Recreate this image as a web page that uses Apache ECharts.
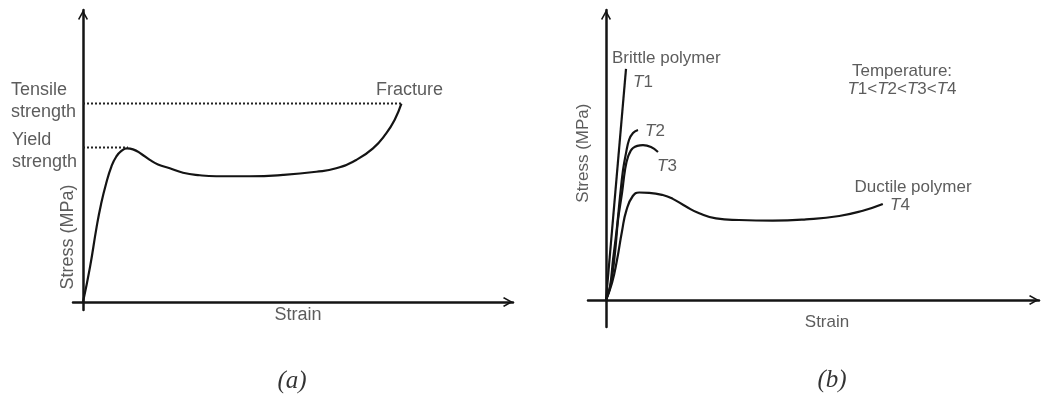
<!DOCTYPE html>
<html><head><meta charset="utf-8">
<script src="https://cdn.jsdelivr.net/npm/echarts@6/dist/echarts.min.js"></script>
<style>html,body{margin:0;padding:0;background:#fff}#c{width:1041px;height:396px}</style>
</head><body><div id="c"></div>
<script>
// ---------- Panel (a): generic stress-strain curve ----------
const strainA = [0, 1.75, 3.4, 4.5, 5.8, 7.1, 8.3, 9.6, 11, 12.5, 14.6, 16.7, 18.75, 21.7, 25, 29.2, 33.3, 41.7, 50, 58.3, 63.3, 68.3, 72.5, 75.8, 77.9, 79.6];
const stressA = [0, 10.9, 23.4, 30.5, 37.1, 42.3, 45.4, 47.2, 48.0, 47.7, 46.25, 44.4, 43.0, 41.8, 40.4, 39.6, 39.3, 39.3, 39.7, 40.7, 41.8, 44.4, 48.0, 52.7, 56.9, 62.0];
const tensileStrength = 62.0, fractureStrain = 79.6;
const yieldStrength = 48.3, yieldStrain = 11.25;

// ---------- Panel (b): temperature dependence ----------
const strainT1 = [0, 5];
const stressT1 = [0, 72.2];
const strainT2 = [0, 1, 1.75, 2.75, 3.5, 4.25, 5, 5.75, 6.75, 8];
const stressT2 = [0, 4.1, 12.5, 22.8, 32.2, 40.6, 45.9, 50, 52.2, 53.1];
const strainT3 = [0, 1.25, 2.25, 3, 4, 4.75, 5.5, 6.75, 9.25, 11.25, 13];
const stressT3 = [0, 5.3, 14.7, 25, 33.4, 40.6, 44.7, 47.5, 48.4, 47.8, 46.25];
const strainT4 = [0, 1.5, 2.75, 4, 5.1, 6.7, 8.3, 10.8, 14.2, 16.7, 20, 23.3, 27.5, 33.3, 41.7, 50, 58.3, 64.2, 69.2];
const stressT4 = [0, 5.3, 12.5, 21.5, 28, 32.5, 33.6, 33.5, 32.8, 31.6, 29.2, 27.1, 25.5, 25, 24.8, 25.2, 26.25, 27.9, 30];

// ---------- Text ----------
const textsA = ['Tensile\nstrength', 'Yield\nstrength', 'Fracture', 'Stress (MPa)', 'Strain', '(a)'];
const textsB = ['Brittle polymer', '{i|T}1', '{i|T}2', '{i|T}3', 'Temperature:', '{i|T}1<{i|T}2<{i|T}3<{i|T}4', 'Ductile polymer', '{i|T}4', 'Stress (MPa)', 'Strain', '(b)'];

// ---------- Layout (text anchors in data units) ----------
const anchorA = [[-18, 62.8, 'left', 0], [-17.75, 47.2, 'left', 0], [73.25, 66.25, 'left', 0], [-3.75, 20.3, 'center', 90], [53.75, -4.06, 'center', 0], [52.25, -24.7, 'center', 0]];
const anchorB = [[1.5, 75.6, 'left', 0], [6.75, 68.1, 'left', 0], [9.75, 52.8, 'left', 0], [12.75, 41.9, 'left', 0], [74, 71.6, 'center', 0], [74, 65.9, 'center', 0], [76.75, 35.3, 'center', 0], [71, 29.7, 'left', 0], [-5.75, 45.9, 'center', 90], [55.25, -6.9, 'center', 0], [56.5, -25, 'center', 0]];

const zip = (xs, ys) => xs.map((x, i) => [x, ys[i]]);
const INK = '#141414';
const TXT = '#333333';
const chevron = 'path://M5,0 L10,9 L8.8,10 L5,3.2 L1.2,10 L0,9 Z';

function axis(min, max) {
  return {
    type: 'value', min: min, max: max,
    axisLine: { show: true, onZero: true, symbol: ['none', chevron], symbolSize: [11, 10], symbolOffset: [0, -5], lineStyle: { color: INK, width: 2.5 } },
    axisTick: { show: false }, axisLabel: { show: false }, splitLine: { show: false }
  };
}
function curve(name, xs, ys, gi, smooth) {
  return { name: name, type: 'line', xAxisIndex: gi, yAxisIndex: gi, data: zip(xs, ys), smooth: smooth, showSymbol: false, symbol: 'none',
    lineStyle: { color: INK, width: 2.2 }, silent: true, clip: false };
}
function textSeries(texts, anchors, gi, size) {
  return {
    type: 'scatter', xAxisIndex: gi, yAxisIndex: gi, symbolSize: 0, clip: false, silent: true, z: 10,
    data: texts.map((t, i) => {
      const a = anchors[i];
      const isCap = t.charAt(0) === '(' && t.length === 3;
      return {
        value: [a[0], a[1]],
        label: {
          show: true, position: [0, 0], formatter: t, align: a[2], verticalAlign: 'middle', rotate: a[3],
          fontFamily: isCap ? 'Liberation Serif' : 'Liberation Sans', fontStyle: isCap ? 'italic' : 'normal',
          fontSize: isCap ? 25 : size, lineHeight: isCap ? 28 : 22, color: isCap ? '#000' : TXT,
          rich: { i: { fontStyle: 'italic', fontFamily: 'Liberation Sans', fontSize: size, color: TXT } }
        }
      };
    })
  };
}

const chart = echarts.init(document.getElementById('c'), null, { renderer: 'canvas' });
chart.setOption({
  backgroundColor: '#ffffff',
  animation: false,
  grid: [
    { left: 73, top: 10, width: 440, height: 300 },
    { left: 588, top: 10, width: 451, height: 317 }
  ],
  xAxis: [axis(-2.5, 107.5), Object.assign(axis(-4.5, 108.25), { gridIndex: 1 })],
  yAxis: [axis(-2.5, 91.25), Object.assign(axis(-8.4375, 90.625), { gridIndex: 1 })],
  series: [
    curve('Stress-strain', strainA, stressA, 0, 0.5),
    { type: 'line', xAxisIndex: 0, yAxisIndex: 0, data: [[0, tensileStrength], [fractureStrain, tensileStrength]], showSymbol: false, symbol: 'none', silent: true,
      lineStyle: { color: '#222', width: 2, type: [2, 2] } },
    { type: 'line', xAxisIndex: 0, yAxisIndex: 0, data: [[0, yieldStrength], [yieldStrain, yieldStrength]], showSymbol: false, symbol: 'none', silent: true,
      lineStyle: { color: '#222', width: 2, type: [2, 2] } },
    curve('T1', strainT1, stressT1, 1, false),
    curve('T2', strainT2, stressT2, 1, 0.4),
    curve('T3', strainT3, stressT3, 1, 0.4),
    curve('T4', strainT4, stressT4, 1, 0.5),
    textSeries(textsA, anchorA, 0, 18),
    textSeries(textsB, anchorB, 1, 17)
  ]
});
</script></body></html>
